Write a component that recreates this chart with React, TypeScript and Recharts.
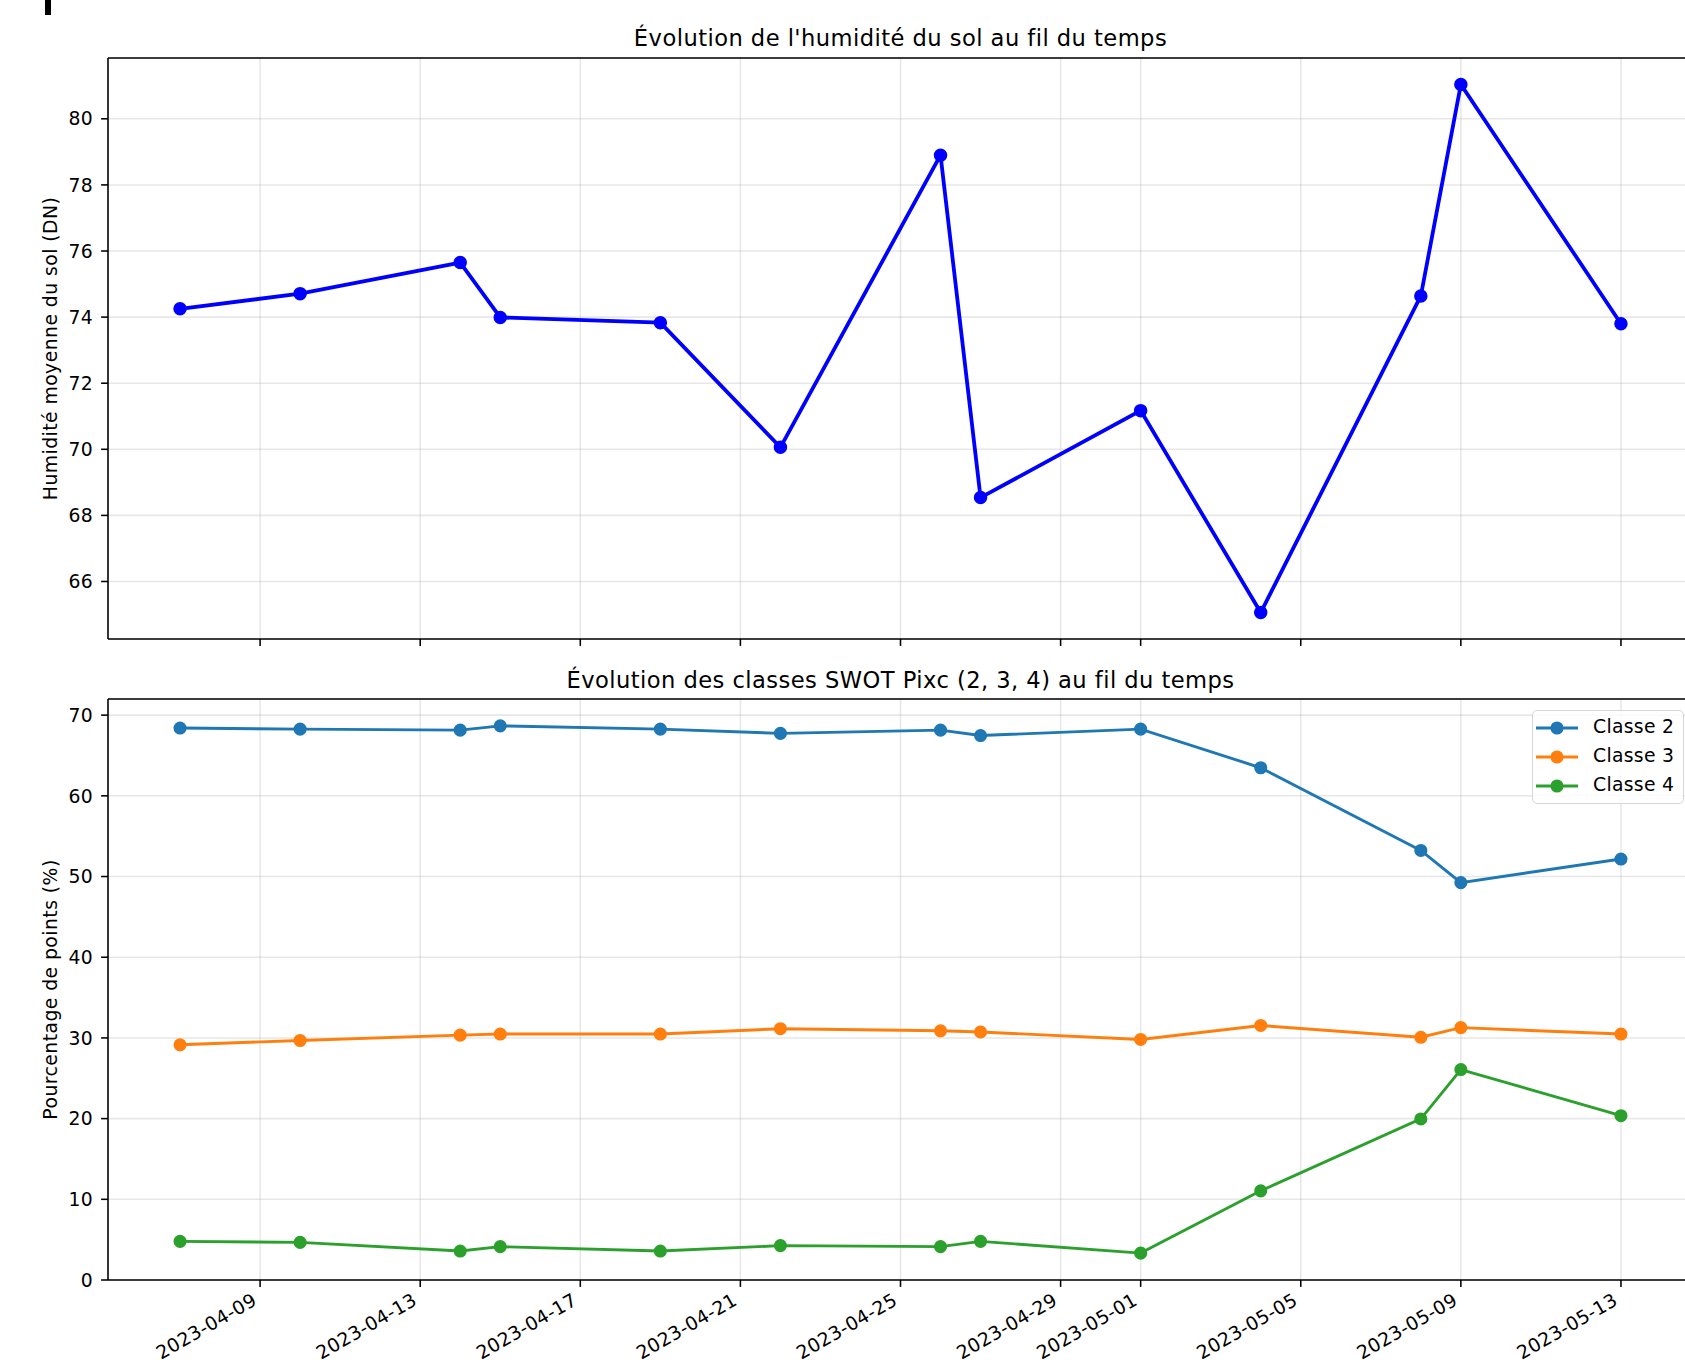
import React from 'react';
import { LineChart, Line, XAxis, YAxis, CartesianGrid, ReferenceLine } from 'recharts';

// dates d'acquisition
const DATES = [
  '2023-04-07', '2023-04-10', '2023-04-14', '2023-04-15', '2023-04-19', '2023-04-22', '2023-04-26',
  '2023-04-27', '2023-05-01', '2023-05-04', '2023-05-08', '2023-05-09', '2023-05-13',
];
const HUMIDITE = [74.25, 74.71, 75.65, 73.99, 73.83, 70.06, 78.9, 68.54, 71.17, 65.06, 74.64, 81.04, 73.8];
const CLASSE_2 = [68.4, 68.27, 68.14, 68.67, 68.27, 67.74, 68.14, 67.47, 68.27, 63.48, 53.23, 49.24, 52.17];
const CLASSE_3 = [29.15, 29.68, 30.34, 30.48, 30.48, 31.14, 30.88, 30.74, 29.81, 31.54, 30.08, 31.27, 30.48];
const CLASSE_4 = [4.79, 4.66, 3.59, 4.13, 3.59, 4.26, 4.13, 4.79, 3.33, 11.05, 19.96, 26.08, 20.36];
const CLASS_NAMES = ['Classe 2', 'Classe 3', 'Classe 4'];

const X_TICK_LABELS = [
  '2023-04-09', '2023-04-13', '2023-04-17', '2023-04-21', '2023-04-25',
  '2023-04-29', '2023-05-01', '2023-05-05', '2023-05-09', '2023-05-13',
];
const HUM_TICKS = [66, 68, 70, 72, 74, 76, 78, 80];
const PCT_TICKS = [0, 10, 20, 30, 40, 50, 60, 70];

const TAB_COLORS = ['#1f77b4', '#ff7f0e', '#2ca02c'];
const FONT = "'DejaVu Sans', sans-serif";

const DAY = 86400000;
const T0 = Date.parse('2023-04-01');
const toDay = (s: string) => (Date.parse(s) - T0) / DAY + 1;
const fromDay = (d: number) => new Date(T0 + Math.round(d - 1) * DAY).toISOString().slice(0, 10);

const rows = DATES.map((d, i) => ({
  day: toDay(d),
  humidite: HUMIDITE[i],
  c2: CLASSE_2[i],
  c3: CLASSE_3[i],
  c4: CLASSE_4[i],
}));
const CLASS_KEYS = ['c2', 'c3', 'c4'];

const X_TICKS = X_TICK_LABELS.map(toDay);
const xPad = (toDay(DATES[DATES.length - 1]) - toDay(DATES[0])) * 0.05;
const X_DOMAIN: [number, number] = [toDay(DATES[0]) - xPad, toDay(DATES[DATES.length - 1]) + xPad];
const HUM_DOMAIN: [number, number] = [64.26, 81.84];
const PCT_DOMAIN: [number, number] = [0, 72];

const W = 1720;
const PLOT_RIGHT = 1693;
const SPINE = 1.55;

const tickStyle = { fontSize: 18.8, fill: '#000', fontFamily: FONT, letterSpacing: 0.3 };

const DateTick = (props: any) => {
  const { x, y, payload } = props;
  const ax = x - 2;
  const ay = y + 11;
  return (
    <text x={ax} y={ay} textAnchor="end" transform={`rotate(-30, ${ax}, ${ay})`} {...tickStyle}>
      {fromDay(payload.value)}
    </text>
  );
};

const NoTick = () => <g />;

const Title = ({ top, children }: { top: number; children: React.ReactNode }) => (
  <div
    style={{
      position: 'absolute', left: 108, width: PLOT_RIGHT - 108, top, textAlign: 'center',
      fontSize: 22.6, letterSpacing: 0.45, lineHeight: 1, color: '#000', fontFamily: FONT, whiteSpace: 'nowrap',
    }}
  >
    {children}
  </div>
);

const LegendBox = () => (
  <div
    style={{
      position: 'absolute', left: 1532, top: 710, width: 152, height: 94, boxSizing: 'border-box', zIndex: 2,
      border: '1.4px solid #d6d6d6', borderRadius: 5, background: 'rgba(255,255,255,0.8)', fontFamily: FONT,
    }}
  >
    {CLASS_NAMES.map((name, i) => (
      <div key={name} style={{ position: 'absolute', left: 0, top: 4 + i * 29, height: 26, width: 150 }}>
        <svg width={50} height={26} style={{ position: 'absolute', left: 0, top: 0 }}>
          <line x1={3} x2={45} y1={13} y2={13} stroke={TAB_COLORS[i]} strokeWidth={2.9} />
          <circle cx={24} cy={13} r={5.8} fill={TAB_COLORS[i]} stroke={TAB_COLORS[i]} strokeWidth={1.5} />
        </svg>
        <span
          style={{
            position: 'absolute', left: 60, top: 2, fontSize: 18.8, letterSpacing: 0.3, lineHeight: '20px',
            color: '#000', whiteSpace: 'nowrap',
          }}
        >
          {name}
        </span>
      </div>
    ))}
  </div>
);

const axisLine = { stroke: '#000', strokeWidth: SPINE };

export default function App() {
  return (
    <div
      style={{
        position: 'fixed', left: 0, top: 0, width: 1685, height: 1367, overflow: 'hidden',
        background: '#fff', fontFamily: FONT,
      }}
    >
      <div style={{ position: 'absolute', left: 0, top: 0 }}>
        <LineChart width={W} height={660} data={rows} margin={{ top: 58, right: W - PLOT_RIGHT, bottom: 0, left: 0 }}>
          <CartesianGrid stroke="#b0b0b0" strokeOpacity={0.3} strokeWidth={SPINE} />
          <XAxis
            dataKey="day" type="number" domain={X_DOMAIN} ticks={X_TICKS} interval={0} allowDataOverflow
            height={21} tick={NoTick} tickSize={6.9} axisLine={axisLine} tickLine={axisLine}
          />
          <YAxis
            type="number" domain={HUM_DOMAIN} ticks={HUM_TICKS} interval={0} allowDataOverflow width={108}
            tick={tickStyle} tickSize={6.9} tickMargin={8} axisLine={axisLine} tickLine={axisLine}
            label={{
              value: 'Humidité moyenne du sol (DN)', angle: -90, position: 'insideLeft', offset: 50,
              textAnchor: 'middle', fontSize: 18.8, letterSpacing: 0.45, fill: '#000', fontFamily: FONT,
            }}
          />
          <ReferenceLine y={HUM_DOMAIN[1]} stroke="#000" strokeWidth={SPINE} ifOverflow="visible" />
          <Line
            dataKey="humidite" stroke="#0000ff" strokeWidth={3.8}
            dot={{ r: 6, fill: '#0000ff', stroke: '#0000ff', strokeWidth: 1.5 }}
            activeDot={false} isAnimationActive={false}
          />
        </LineChart>
      </div>

      <div style={{ position: 'absolute', left: 0, top: 640 }}>
        <LineChart width={W} height={727} data={rows} margin={{ top: 59, right: W - PLOT_RIGHT, bottom: 0, left: 0 }}>
          <CartesianGrid stroke="#b0b0b0" strokeOpacity={0.3} strokeWidth={SPINE} />
          <XAxis
            dataKey="day" type="number" domain={X_DOMAIN} ticks={X_TICKS} interval={0} allowDataOverflow
            height={87} tick={DateTick} tickSize={6.9} tickMargin={6} axisLine={axisLine} tickLine={axisLine}
          />
          <YAxis
            type="number" domain={PCT_DOMAIN} ticks={PCT_TICKS} interval={0} allowDataOverflow width={108}
            tick={tickStyle} tickSize={6.9} tickMargin={8} axisLine={axisLine} tickLine={axisLine}
            label={{
              value: 'Pourcentage de points (%)', angle: -90, position: 'insideLeft', offset: 50,
              textAnchor: 'middle', fontSize: 18.8, letterSpacing: 0.45, fill: '#000', fontFamily: FONT,
            }}
          />
          <ReferenceLine y={PCT_DOMAIN[1]} stroke="#000" strokeWidth={SPINE} ifOverflow="visible" />
          {CLASS_KEYS.map((k, i) => (
            <Line
              key={k} dataKey={k} name={CLASS_NAMES[i]} stroke={TAB_COLORS[i]} strokeWidth={2.9}
              dot={{ r: 5.8, fill: TAB_COLORS[i], stroke: TAB_COLORS[i], strokeWidth: 1.5 }}
              activeDot={false} isAnimationActive={false}
            />
          ))}
        </LineChart>
      </div>

      <Title top={27}>Évolution de l'humidité du sol au fil du temps</Title>
      <Title top={669}>Évolution des classes SWOT Pixc (2, 3, 4) au fil du temps</Title>
      <LegendBox />
      <div style={{ position: 'absolute', left: 45, top: 0, width: 6, height: 15, background: '#000', zIndex: 3 }} />
    </div>
  );
}
